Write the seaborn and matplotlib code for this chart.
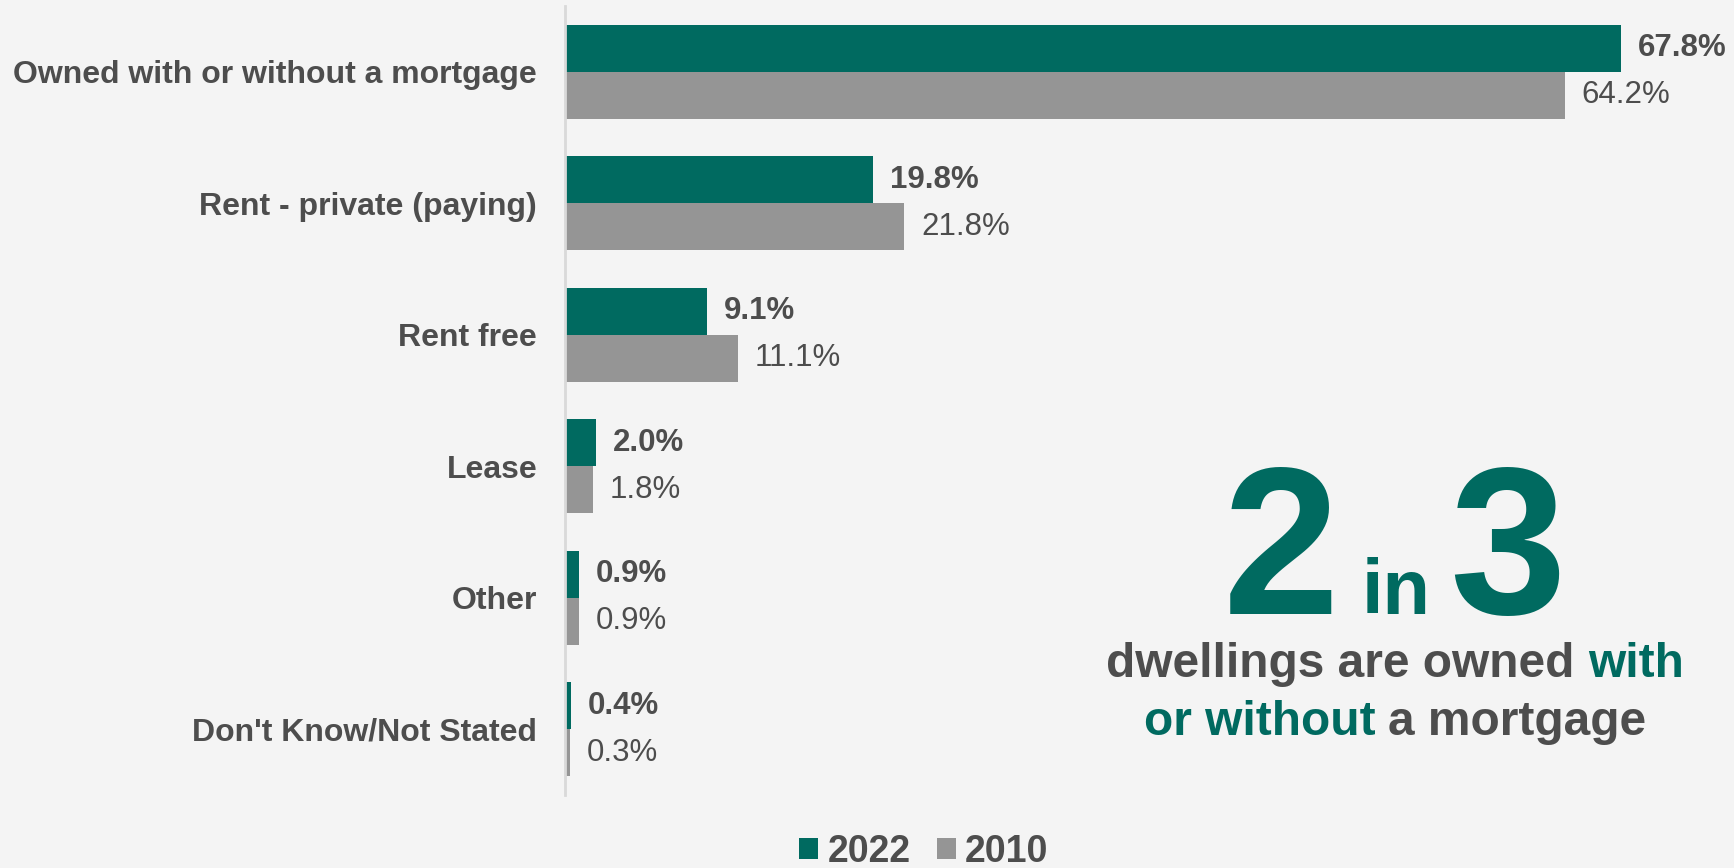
import matplotlib
matplotlib.use("Agg")
import matplotlib.pyplot as plt
import seaborn as sns
import pandas as pd

categories = ["Owned with or without a mortgage", "Rent - private (paying)", "Rent free",
              "Lease", "Other", "Don't Know/Not Stated"]
values_2022 = [67.8, 19.8, 9.1, 2.0, 0.9, 0.4]
values_2010 = [64.2, 21.8, 11.1, 1.8, 0.9, 0.3]
years = ["2022", "2010"]

TEAL = "#006a60"
GRAY = "#959595"
TXT = "#4d4d4d"
BG = "#f4f4f4"

df = pd.DataFrame({
    "category": categories * 2,
    "value": values_2022 + values_2010,
    "year": [years[0]] * len(categories) + [years[1]] * len(categories),
})

sns.set_theme(style="white")
plt.rcParams["font.family"] = ["Liberation Sans", "DejaVu Sans"]

fig = plt.figure(figsize=(17.34, 8.68), dpi=100, facecolor=BG)
ax = fig.add_axes([565 / 1734, 1 - 795 / 868, 1168 / 1734, 789 / 868])
ax.set_facecolor(BG)

sns.barplot(data=df, y="category", x="value", hue="year", orient="h",
            palette={years[0]: TEAL, years[1]: GRAY}, width=0.714,
            linewidth=0, saturation=1, ax=ax, order=categories, hue_order=years)

ax.set_xlim(0, 75)
ax.set_ylim(5.5, -0.5)
ax.set_xlabel("")
ax.set_ylabel("")
ax.set_xticks([])
for s in ["top", "right", "bottom"]:
    ax.spines[s].set_visible(False)
ax.spines["left"].set_color("#d9d9d9")
ax.spines["left"].set_linewidth(2)
ax.tick_params(axis="y", length=0, pad=20)
for lab in ax.get_yticklabels():
    lab.set_fontsize(23)
    lab.set_fontweight("bold")
    lab.set_color(TXT)

for i, cont in enumerate(ax.containers):
    ax.bar_label(cont, fmt="%.1f%%", padding=12, fontsize=22.5, color=TXT,
                 fontweight="bold" if i == 0 else "normal")

handles, labels = ax.get_legend_handles_labels()
ax.get_legend().remove()
fig.legend(handles, labels, loc="center", bbox_to_anchor=(924 / 1734, 1 - 852 / 868),
           ncol=2, frameon=False, handlelength=0.5, handleheight=0.5,
           handletextpad=0.25, columnspacing=0.7, borderpad=0,
           prop={"weight": "bold", "size": 27}, labelcolor=TXT)

# Callout
def fy(py):
    return 1 - py / 868

def fx(px):
    return px / 1734

fig.text(fx(1281), fy(614), "2", fontsize=151, fontweight="bold", color=TEAL,
         ha="center", va="baseline")
fig.text(fx(1396), fy(614), "in", fontsize=56, fontweight="bold", color=TEAL,
         ha="center", va="baseline")
fig.text(fx(1508), fy(614), "3", fontsize=151, fontweight="bold", color=TEAL,
         ha="center", va="baseline")

lines = [
    (("dwellings are owned", TXT), ("with", TEAL), 677),
    (("or without", TEAL), ("a mortgage", TXT), 735),
]
fig.canvas.draw()
renderer = fig.canvas.get_renderer()
for (left, right, base) in lines:
    full = fig.text(fx(1395), fy(base), left[0] + " " + right[0], fontsize=34.5,
                    fontweight="bold", ha="center", va="baseline")
    bb = full.get_window_extent(renderer)
    full.remove()
    x0 = bb.x0 / fig.bbox.width
    x1 = bb.x1 / fig.bbox.width
    fig.text(x0, fy(base), left[0], fontsize=34.5, fontweight="bold", color=left[1],
             ha="left", va="baseline")
    fig.text(x1, fy(base), right[0], fontsize=34.5, fontweight="bold", color=right[1],
             ha="right", va="baseline")

fig.savefig("out.png", dpi=100, facecolor=BG)
